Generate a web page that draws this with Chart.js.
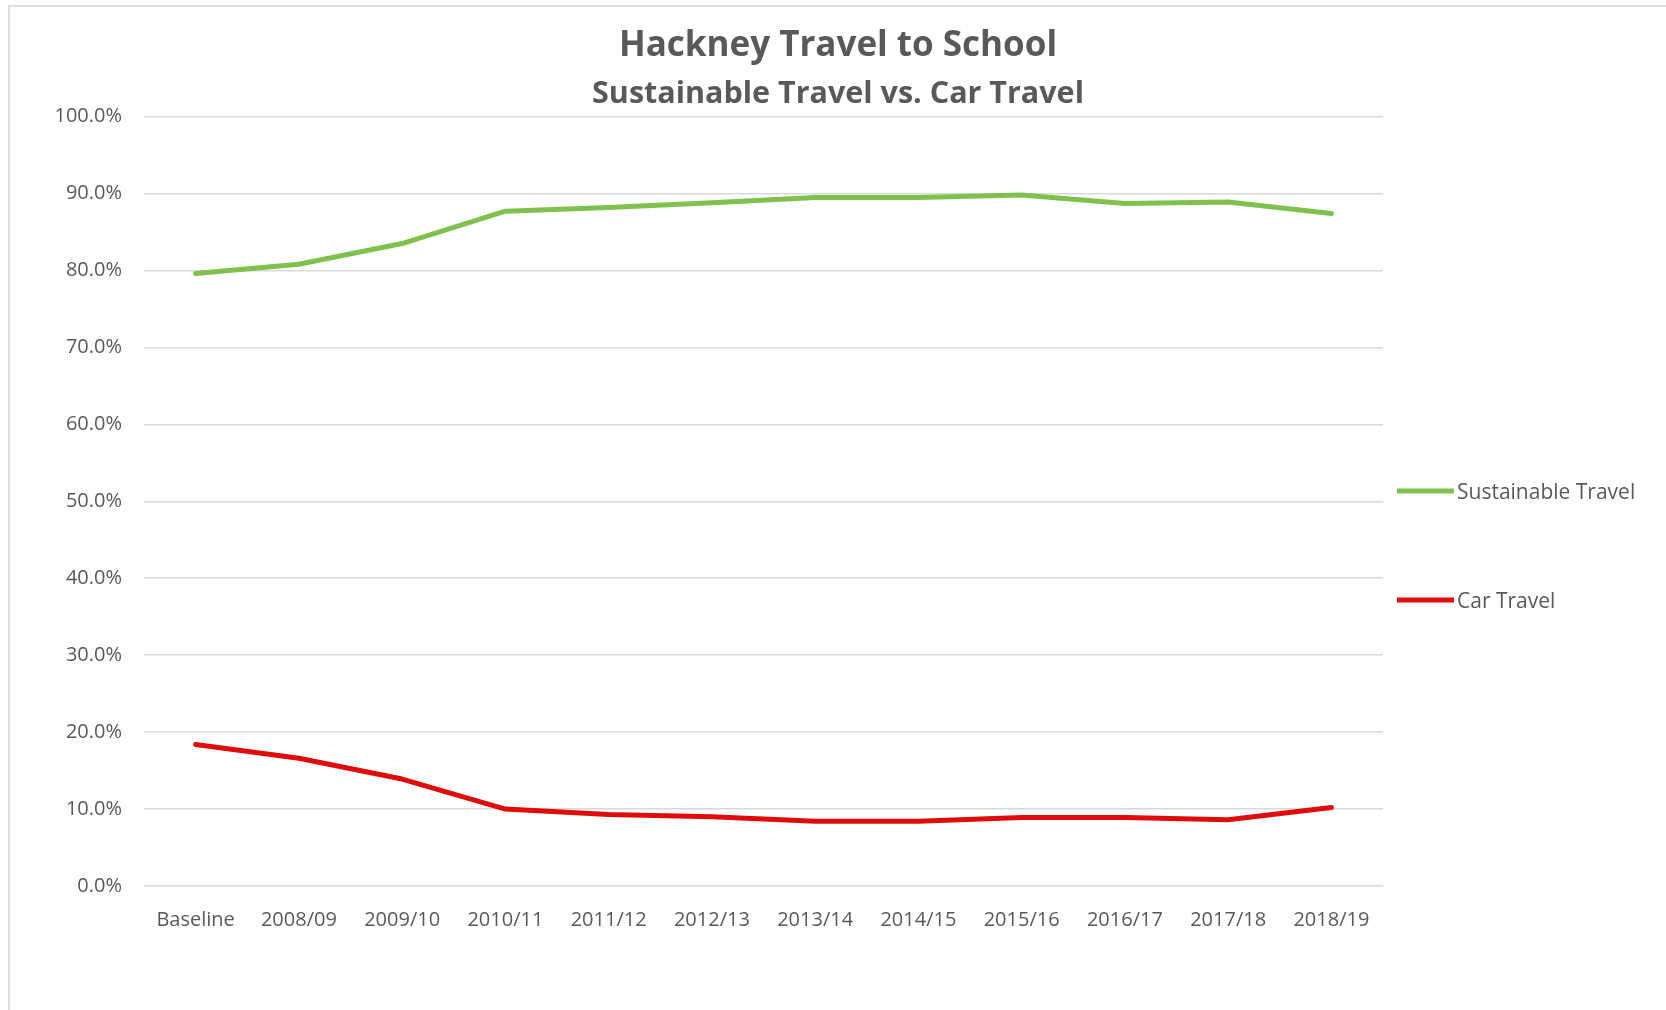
<!DOCTYPE html>
<html>
<head>
<meta charset="utf-8">
<title>Hackney Travel to School</title>
<script src="https://cdn.jsdelivr.net/npm/chart.js@4.4.1/dist/chart.umd.min.js"></script>
<style>
  html, body { margin: 0; padding: 0; background: #fff; overflow: hidden; }
  #wrap { position: relative; width: 1666px; height: 1010px; overflow: hidden; }
  #frame { position: absolute; left: 8px; top: 5px; width: 1700px; height: 1100px;
           border-left: 2px solid #dedede; border-top: 2px solid #dedede; }
  canvas { position: absolute; left: 0; top: 0; }
</style>
</head>
<body>
<div id="wrap">
  <div id="frame"></div>
  <canvas id="travelChart" width="1666" height="1010"></canvas>
</div>
<script>
// School years on the x axis
var years = ['Baseline', '2008/09', '2009/10', '2010/11', '2011/12', '2012/13',
             '2013/14', '2014/15', '2015/16', '2016/17', '2017/18', '2018/19'];

// Share of pupils (%)
var sustainableTravel = [79.6, 80.8, 83.5, 87.7, 88.2, 88.8, 89.5, 89.5, 89.8, 88.7, 88.9, 87.4];
var carTravel = [18.4, 16.6, 13.9, 10.0, 9.3, 9.0, 8.4, 8.4, 8.9, 8.9, 8.6, 10.2];

var textGrey = '#595959';
var font = "'Open Sans', 'Noto Sans', sans-serif";

// Excel-style legend to the right of the plot, one entry per row
var sideLegend = {
    id: 'sideLegend',
    afterDraw: function(chart, args, opts) {
        var ctx = chart.ctx;
        ctx.save();
        ctx.font = opts.fontSize + 'px ' + font;
        ctx.textBaseline = 'middle';
        chart.data.datasets.forEach(function(ds, i) {
            var y = opts.rows[i];
            ctx.strokeStyle = ds.borderColor;
            ctx.lineWidth = ds.borderWidth;
            ctx.beginPath();
            ctx.moveTo(opts.x, y);
            ctx.lineTo(opts.x + opts.lineLength, y);
            ctx.stroke();
            ctx.fillStyle = textGrey;
            ctx.fillText(ds.label, opts.x + opts.lineLength + 3, y + 2);
        });
        ctx.restore();
    }
};

var ctx = document.getElementById('travelChart').getContext('2d');
var travelChart = new Chart(ctx, {
    type: 'line',
    data: {
        labels: years,
        datasets: [{
            label: 'Sustainable Travel',
            data: sustainableTravel,
            borderColor: '#80c04c',
            borderWidth: 5
        }, {
            label: 'Car Travel',
            data: carTravel,
            borderColor: '#e00c0c',
            borderWidth: 5
        }]
    },
    options: {
        responsive: false,
        animation: false,
        layout: {
            padding: { left: 10, right: 0, top: 0, bottom: 0 }
        },
        elements: {
            line: { tension: 0, borderCapStyle: 'round', borderJoinStyle: 'round' },
            point: { radius: 0 }
        },
        plugins: {
            legend: { display: false },
            tooltip: { enabled: false },
            title: {
                display: true,
                text: 'Hackney Travel to School',
                color: textGrey,
                font: { family: font, size: 35, weight: 'bold' },
                padding: { top: 25, bottom: 0 }
            },
            subtitle: {
                display: true,
                text: 'Sustainable Travel vs. Car Travel',
                color: textGrey,
                font: { family: font, size: 30.5, weight: 'bold' },
                padding: { top: 9, bottom: 4 }
            },
            sideLegend: {
                x: 1397,
                lineLength: 57,
                rows: [491, 600],
                fontSize: 21
            }
        },
        scales: {
            x: {
                offset: true,
                grid: { display: false },
                border: { display: false },
                ticks: {
                    color: textGrey,
                    font: { family: font, size: 20 },
                    padding: 14,
                    maxRotation: 0
                },
                afterFit: function(scale) { scale.height = 124; }
            },
            y: {
                min: 0,
                max: 100,
                grid: { color: '#d9d9d9', lineWidth: 1.5, drawTicks: false },
                border: { display: false },
                ticks: {
                    stepSize: 10,
                    color: textGrey,
                    font: { family: font, size: 20 },
                    padding: 22,
                    callback: function(value) { return value.toFixed(1) + '%'; }
                },
                afterFit: function(scale) { scale.width = 134; }
            },
            // empty axis that keeps room for the legend on the right
            legendSpace: {
                position: 'right',
                grid: { display: false },
                border: { display: false },
                ticks: { display: false },
                afterFit: function(scale) { scale.width = 283; }
            }
        }
    },
    plugins: [sideLegend]
});
</script>
</body>
</html>
